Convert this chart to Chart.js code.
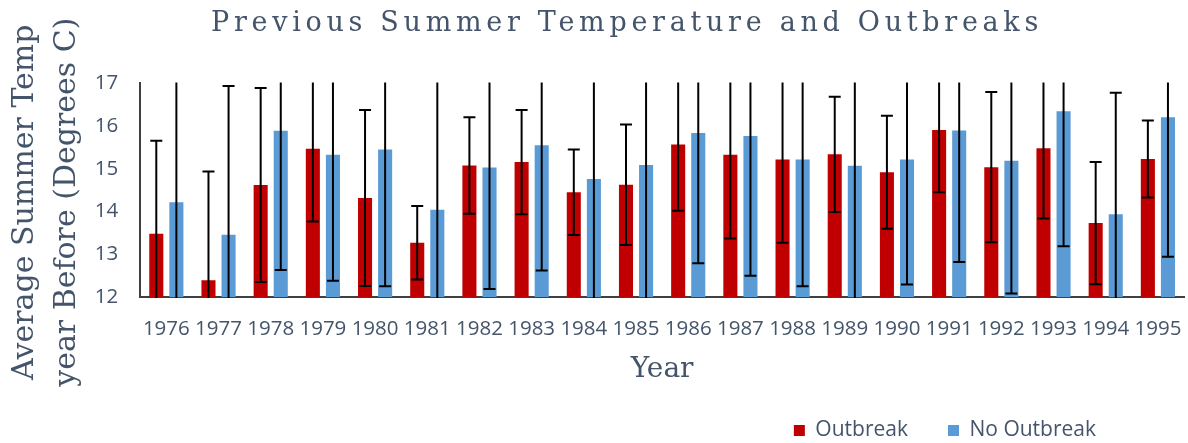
<!DOCTYPE html>
<html>
<head>
<meta charset="utf-8">
<script src="https://cdn.jsdelivr.net/npm/chart.js@4/dist/chart.umd.min.js"></script>
<style>
  html, body { margin: 0; padding: 0; background: #ffffff; }
  #wrap { width: 1188px; height: 443px; }
</style>
</head>
<body>
<div id="wrap"><canvas id="c" width="1188" height="443"></canvas></div>
<script>
const years = ['1976','1977','1978','1979','1980','1981','1982','1983','1984','1985','1986','1987','1988','1989','1990','1991','1992','1993','1994','1995'];
const outbreak    = [13.48,12.39,14.62,15.47,14.32,13.27,15.08,15.16,14.45,14.63,15.57,15.33,15.22,15.34,14.92,15.91,15.04,15.48,13.73,15.23];
const outbreakErr = [2.18,2.55,2.27,1.70,2.06,0.86,1.13,1.22,1.00,1.41,1.55,1.96,1.95,1.35,1.32,1.46,1.76,1.64,1.43,0.90];
const noOutbreak    = [14.22,13.46,15.89,15.33,15.45,14.04,15.03,15.55,14.76,15.09,15.84,15.77,15.22,15.07,15.22,15.90,15.19,16.35,13.94,16.21];
const noOutbreakErr = [3.00,3.48,3.26,2.95,3.20,3.10,2.84,2.93,3.00,3.20,3.05,3.27,2.97,3.20,2.93,3.08,3.11,3.16,2.84,3.27];
const yTicks = [12,13,14,15,16,17];

const textColor = '#44546A';

const errorBarPlugin = {
  id: 'errorBars',
  afterDatasetsDraw(chart) {
    const ctx = chart.ctx;
    const area = chart.chartArea;
    const ys = chart.scales.y;
    const errs = [outbreakErr, noOutbreakErr];
    ctx.save();
    ctx.beginPath();
    ctx.rect(area.left, area.top - 1, area.right - area.left, area.bottom - area.top + 2);
    ctx.clip();
    ctx.strokeStyle = '#000000';
    ctx.lineWidth = 2;
    chart.data.datasets.forEach((ds, di) => {
      const meta = chart.getDatasetMeta(di);
      meta.data.forEach((bar, i) => {
        const v = ds.data[i], e = errs[di][i];
        const x = bar.x;
        const yt = ys.getPixelForValue(v + e);
        const yb = ys.getPixelForValue(v - e);
        ctx.beginPath();
        ctx.moveTo(x, yt); ctx.lineTo(x, yb);
        ctx.moveTo(x - 6, yt); ctx.lineTo(x + 6, yt);
        ctx.moveTo(x - 6, yb); ctx.lineTo(x + 6, yb);
        ctx.stroke();
      });
    });
    ctx.restore();
  }
};

const layoutTweaks = {
  id: 'layoutTweaks',
  beforeDraw(chart) {
    const tb = chart.titleBlock;
    if (tb && !tb._spaced) {
      const orig = tb.draw;
      tb.draw = function (...args) {
        const c = this.ctx;
        c.save();
        c.letterSpacing = '4.7px';
        orig.apply(this, args);
        c.restore();
      };
      tb._spaced = true;
    }
    const ys = chart.scales.y;
    if (ys && !ys._shifted) {
      const origT = ys.drawTitle;
      ys.drawTitle = function (...args) {
        const c = this.ctx;
        c.save();
        c.translate(0, 12);
        origT.apply(this, args);
        c.restore();
      };
      ys._shifted = true;
    }
  },
  afterLayout(chart) {
    const tb = chart.titleBlock;
    if (tb) { tb.left = 70; }
    const lg = chart.legend;
    if (lg) { lg.right = 1136; lg.top = 380; }
  }
};

new Chart(document.getElementById('c'), {
  type: 'bar',
  data: {
    labels: years,
    datasets: [
      { label: 'Outbreak', data: outbreak, backgroundColor: '#C00000', categoryPercentage: 0.77, barPercentage: 0.7 },
      { label: 'No Outbreak', data: noOutbreak, backgroundColor: '#5B9BD5', categoryPercentage: 0.77, barPercentage: 0.7 }
    ]
  },
  options: {
    responsive: false,
    animation: false,
    events: [],
    layout: { padding: { left: 5, right: 4, top: 0, bottom: 0 } },
    plugins: {
      title: {
        display: true,
        text: 'Previous Summer Temperature and Outbreaks',
        color: textColor,
        font: { family: 'DejaVu Serif', size: 27, weight: 'normal' },
        padding: { top: 8, bottom: 43 }
      },
      legend: {
        position: 'bottom',
        align: 'end',
        maxHeight: 56,
        labels: {
          color: textColor,
          font: { family: 'Open Sans', size: 21 },
          boxWidth: 11,
          boxHeight: 11,
          padding: 40
        }
      },
      tooltip: { enabled: false }
    },
    scales: {
      x: {
        grid: { display: false, drawTicks: true, tickLength: 13 },
        border: { display: true, color: '#404040', width: 2 },
        ticks: { color: textColor, font: { family: 'Open Sans', size: 20.5, lineHeight: 1.58 }, padding: 3, maxRotation: 0, autoSkip: false },
        title: { display: true, text: 'Year', color: textColor, font: { family: 'DejaVu Serif', size: 28 }, padding: { top: 5, bottom: 0 } }
      },
      y: {
        min: 12, max: 17,
        afterBuildTicks(scale) { scale.ticks = yTicks.map(v => ({ value: v })); },
        grid: { display: false, drawTicks: false },
        border: { display: true, color: '#404040', width: 2 },
        ticks: { color: textColor, font: { family: 'Open Sans', size: 20.5 }, padding: 22 },
        title: { display: true, text: ['Average Summer Temp', 'year Before (Degrees C)'], color: textColor, font: { family: 'DejaVu Serif', size: 30, lineHeight: 1.38 }, padding: { top: 0, bottom: -15 } }
      }
    }
  },
  plugins: [errorBarPlugin, layoutTweaks]
});
</script>
</body>
</html>
